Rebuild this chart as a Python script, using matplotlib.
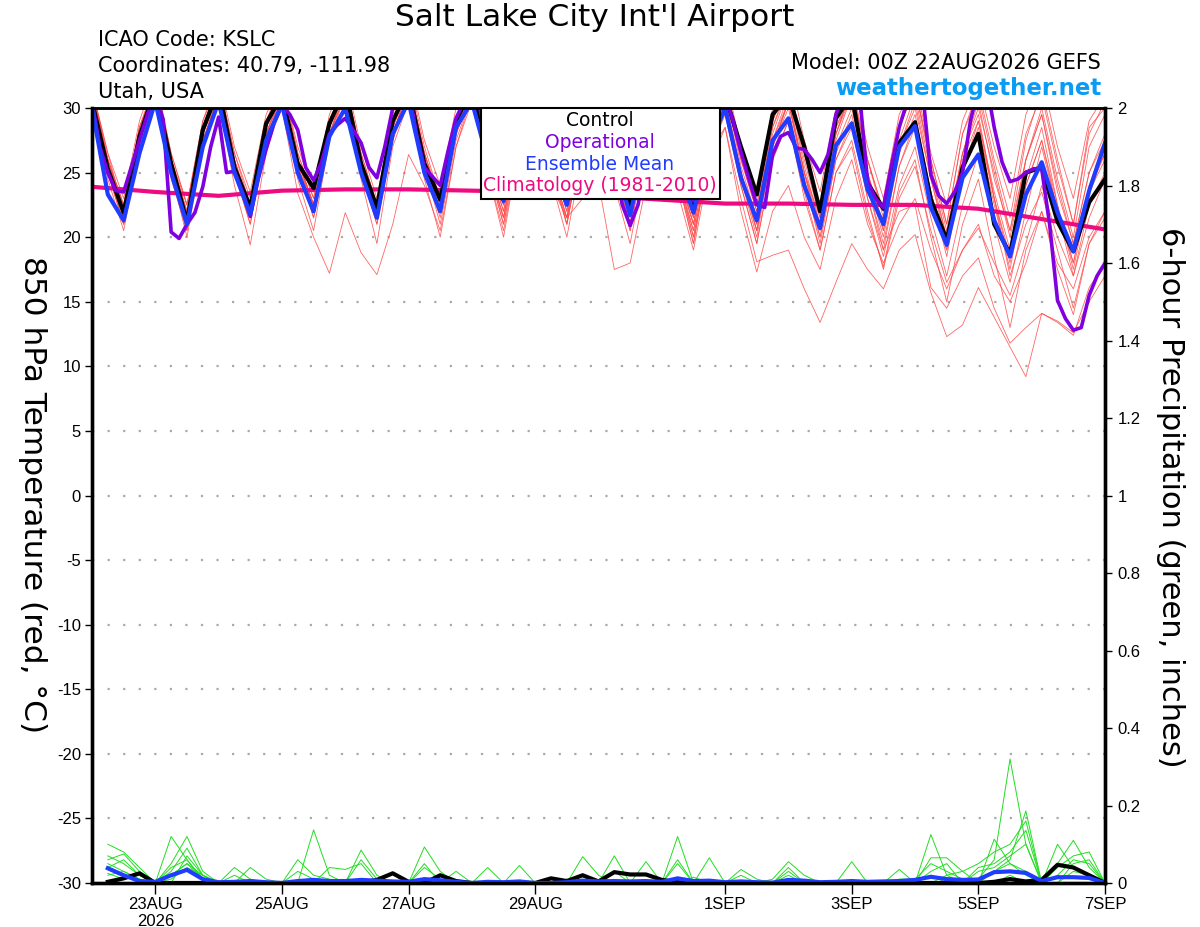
import matplotlib
matplotlib.use("Agg")
import matplotlib.pyplot as plt
from matplotlib.patches import Rectangle
import numpy as np

plt.rcParams['font.family'] = ['Liberation Sans', 'DejaVu Sans']
plt.rcParams['axes.unicode_minus'] = False
WIDE = ['DejaVu Sans']

# 850 hPa temperature, 6-hourly from 00Z 22AUG2026 (65 steps)
control_t = [30.5, 25.3, 21.9, 27.8, 31.5, 25.7, 21.2, 28.3,
             31.5, 25.4, 22.3, 28.8, 31.0, 25.7, 23.8, 28.8,
             31.5, 25.7, 22.3, 29.0, 31.5, 25.7, 22.9, 29.0,
             31.5, 26.5, 23.0, 28.5, 31.5, 26.5, 23.5, 28.5,
             31.5, 26.0, 22.5, 28.0, 31.0, 26.0, 22.5, 28.5,
             31.0, 27.0, 23.3, 29.5, 31.0, 27.0, 22.0, 29.2,
             31.0, 24.2, 22.2, 27.3, 28.9, 22.9, 19.8, 25.4,
             28.0, 21.0, 18.7, 25.0, 25.4, 21.2, 18.9, 22.7,
             24.5]

mean_t = [30.0, 23.3, 21.3, 26.5, 30.5, 25.0, 21.0, 27.0,
          30.5, 25.0, 21.8, 27.5, 30.3, 25.0, 22.0, 27.8,
          30.0, 25.0, 21.5, 28.0, 30.5, 25.0, 22.0, 28.5,
          30.5, 26.0, 22.8, 28.0, 30.5, 26.0, 22.5, 28.0,
          30.5, 26.0, 21.7, 27.5, 30.3, 25.5, 21.9, 27.0,
          30.0, 24.6, 21.3, 27.5, 29.2, 24.0, 20.7, 27.1,
          28.8, 23.7, 21.0, 27.0, 28.6, 22.3, 19.4, 24.6,
          26.4, 21.3, 18.5, 23.3, 25.8, 21.9, 18.9, 23.6,
          27.3]

# operational run is 3-hourly (129 steps)
oper_t = [30.5, 27.0, 25.0, 23.6, 23.5, 25.5, 27.5, 29.5,
          31.0, 29.1, 20.4, 19.9, 21.0, 21.9, 23.9, 27.0,
          29.3, 25.0, 25.1, 23.5, 21.6, 24.5, 26.8, 28.8,
          30.2, 29.5, 28.3, 25.4, 24.4, 25.8, 28.0, 28.7,
          29.2, 28.3, 27.3, 25.4, 24.6, 27.0, 30.0, 31.0,
          31.5, 28.0, 25.4, 24.7, 24.0, 26.7, 29.2, 30.5,
          31.0, 30.0, 27.0, 25.0, 23.8, 25.0, 27.5, 30.0,
          31.5, 30.0, 27.0, 25.0, 24.0, 25.5, 28.0, 30.5,
          31.5, 29.5, 26.0, 22.5, 20.9, 22.5, 26.0, 29.5,
          31.0, 29.5, 26.5, 24.0, 22.8, 24.5, 27.5, 30.0,
          31.0, 29.0, 26.6, 24.5, 22.5, 22.3, 26.4, 27.8,
          28.1, 26.9, 26.8, 26.0, 25.0, 26.4, 29.5, 31.0,
          32.0, 31.0, 24.3, 23.0, 22.3, 25.5, 28.5, 30.5,
          32.0, 31.0, 24.8, 23.2, 22.6, 23.5, 25.0, 29.0,
          31.5, 32.0, 28.5, 25.8, 24.3, 24.5, 25.0, 25.3,
          25.3, 21.0, 15.1, 13.7, 12.8, 13.0, 15.5, 17.0,
          18.0]

# daily climatology (1981-2010)
clim_t = [23.9, 23.5, 23.2, 23.6, 23.7, 23.7, 23.6, 23.5, 23.2,
          22.9, 22.6, 22.6, 22.5, 22.5, 22.2, 21.4, 20.6]

members_t = [
    [31.0, 26.0, 22.5, 28.0, 32.0, 25.5, 21.5, 28.0, 31.5, 25.0, 22.0, 28.5,
     31.0, 25.5, 22.5, 28.0, 31.5, 26.0, 22.0, 28.5, 32.0, 26.5, 23.0, 29.0,
     32.0, 26.0, 22.5, 28.5, 31.5, 26.0, 22.0, 28.0, 31.5, 26.5, 22.5, 28.5,
     31.0, 25.5, 21.5, 28.0, 31.0, 25.0, 21.0, 27.5, 30.5, 25.0, 21.5, 28.0,
     31.5, 26.0, 22.0, 28.5, 31.5, 25.5, 20.5, 26.5, 30.0, 25.0, 20.0, 26.0,
     29.5, 24.0, 19.5, 25.0, 28.0],
    [30.5, 25.0, 21.0, 27.5, 31.0, 24.5, 20.5, 27.0, 31.0, 25.0, 21.0, 28.0,
     30.0, 23.4, 20.0, 17.2, 21.9, 18.8, 17.1, 21.0, 26.4, 24.0, 20.5, 27.0,
     30.5, 25.5, 21.5, 28.0, 31.0, 25.5, 21.0, 27.5, 30.5, 25.0, 21.0, 27.5,
     30.5, 24.5, 20.0, 26.5, 30.0, 24.5, 20.5, 27.0, 30.5, 25.0, 21.0, 27.5,
     31.0, 24.0, 19.0, 25.5, 29.0, 23.5, 19.0, 25.0, 29.0, 23.0, 18.5, 24.5,
     28.5, 22.5, 18.0, 23.5, 26.5],
    [31.5, 26.5, 22.0, 28.5, 32.0, 26.0, 22.5, 29.0, 32.0, 26.5, 23.0, 29.0,
     31.5, 26.0, 22.5, 28.5, 32.0, 26.0, 22.0, 28.5, 31.5, 26.0, 22.0, 28.0,
     31.0, 25.5, 21.0, 27.0, 29.0, 24.0, 21.5, 23.0, 24.2, 17.5, 18.0, 24.0,
     29.5, 24.5, 20.5, 27.0, 31.0, 26.0, 22.0, 28.5, 32.0, 26.5, 22.0, 28.0,
     31.5, 25.0, 21.0, 27.5, 31.0, 25.0, 20.0, 26.5, 30.5, 24.5, 20.5, 26.0,
     29.5, 23.5, 19.5, 25.0, 27.5],
    [31.0, 25.5, 21.5, 28.0, 31.5, 26.0, 21.5, 28.0, 31.0, 25.5, 21.5, 28.0,
     31.5, 26.0, 22.5, 28.5, 31.5, 25.5, 21.5, 28.0, 31.5, 26.0, 22.0, 28.5,
     31.5, 25.5, 21.0, 28.0, 31.0, 25.5, 21.5, 27.5, 31.0, 25.0, 20.5, 27.5,
     30.5, 24.5, 19.5, 26.5, 28.5, 23.0, 18.1, 18.6, 19.0, 16.0, 13.4, 16.5,
     19.5, 17.5, 16.0, 19.0, 20.2, 15.7, 12.3, 13.2, 16.1, 13.8, 11.5, 9.2,
     14.1, 13.5, 12.6, 15.0, 17.0],
    [31.5, 26.0, 22.5, 28.5, 31.5, 26.0, 22.0, 28.5, 32.0, 26.5, 22.5, 29.0,
     32.0, 26.5, 23.0, 29.0, 32.0, 26.5, 22.5, 29.0, 32.5, 27.0, 23.0, 29.0,
     32.0, 26.5, 22.5, 28.5, 32.0, 26.0, 22.0, 28.5, 31.5, 25.5, 21.5, 28.0,
     31.0, 25.0, 21.0, 27.5, 30.5, 25.0, 20.5, 27.0, 30.0, 24.0, 20.0, 26.0,
     28.5, 23.0, 19.0, 22.0, 22.5, 16.1, 14.5, 17.0, 18.4, 14.5, 11.8, 13.0,
     14.1, 13.4, 12.4, 16.1, 18.0],
    [31.0, 25.5, 22.0, 28.0, 31.5, 25.0, 21.0, 28.0, 31.5, 25.5, 21.5, 28.5,
     31.5, 26.0, 22.0, 28.5, 32.0, 26.0, 22.0, 29.0, 32.0, 26.5, 22.5, 29.0,
     32.5, 26.5, 23.0, 29.5, 32.5, 26.5, 22.5, 29.0, 32.0, 26.0, 22.0, 28.5,
     31.5, 26.0, 21.5, 28.0, 31.5, 26.5, 22.5, 29.0, 32.0, 26.5, 22.5, 29.0,
     32.0, 26.0, 22.0, 28.5, 31.5, 26.0, 21.0, 28.0, 31.5, 26.0, 21.5, 28.0,
     31.0, 25.5, 21.0, 28.0, 30.5],
    [31.5, 25.5, 21.0, 27.5, 31.0, 25.0, 20.5, 27.0, 31.0, 25.0, 21.0, 27.5,
     31.0, 25.5, 21.5, 28.0, 31.0, 25.0, 21.0, 27.5, 31.5, 25.5, 21.0, 27.5,
     31.0, 25.0, 20.5, 27.0, 30.5, 24.5, 20.0, 26.5, 30.0, 24.0, 19.5, 26.0,
     29.5, 23.5, 19.0, 25.5, 28.5, 22.0, 17.3, 22.0, 24.0, 20.0, 17.5, 23.0,
     26.0, 21.0, 18.0, 21.0, 23.0, 19.0, 16.0, 19.0, 21.0, 17.0, 15.0, 18.0,
     22.0, 18.0, 16.0, 20.0, 22.0],
    [30.5, 25.0, 21.5, 27.5, 31.0, 25.5, 22.0, 28.0, 31.0, 25.5, 22.0, 28.5,
     31.5, 26.0, 22.5, 28.5, 31.5, 25.5, 21.5, 28.0, 31.0, 25.5, 22.0, 28.0,
     31.5, 26.0, 22.0, 28.5, 31.5, 26.0, 22.5, 28.5, 31.5, 26.0, 22.0, 28.0,
     31.0, 25.5, 21.0, 27.5, 30.5, 25.0, 20.5, 27.0, 30.5, 25.0, 20.0, 26.5,
     29.5, 24.0, 19.5, 25.5, 28.5, 23.5, 19.0, 25.0, 28.5, 23.0, 18.0, 24.0,
     27.5, 22.5, 17.5, 23.5, 26.0],
    [30.0, 24.5, 20.5, 27.0, 31.0, 25.0, 20.0, 27.0, 30.5, 24.0, 19.4, 26.5,
     30.5, 24.5, 20.5, 27.5, 31.0, 24.5, 19.5, 27.0, 30.5, 24.5, 20.0, 27.0,
     31.0, 25.0, 20.0, 27.0, 30.5, 25.0, 21.0, 27.5, 31.0, 25.0, 20.5, 27.0,
     30.5, 24.5, 19.5, 26.5, 30.0, 24.5, 20.0, 27.0, 30.5, 24.5, 19.5, 26.0,
     29.0, 23.0, 18.5, 24.0, 27.0, 21.5, 17.0, 22.5, 26.5, 21.0, 16.5, 22.0,
     27.0, 22.0, 17.0, 22.5, 25.0],
    [31.5, 26.5, 23.0, 29.0, 32.5, 26.5, 22.5, 29.0, 32.5, 27.0, 23.5, 29.5,
     32.0, 27.0, 23.5, 29.5, 32.5, 27.0, 23.0, 29.5, 33.0, 27.5, 24.0, 30.0,
     33.0, 27.5, 24.0, 30.0, 32.5, 27.0, 23.5, 29.5, 32.5, 27.0, 23.5, 29.5,
     32.0, 27.0, 23.0, 29.5, 32.5, 27.0, 23.5, 30.0, 33.0, 27.5, 23.5, 30.0,
     32.5, 27.0, 23.0, 29.5, 32.0, 26.5, 22.5, 29.0, 32.0, 27.0, 23.0, 29.5,
     32.5, 27.0, 23.0, 29.0, 31.0],
    [30.5, 25.0, 21.0, 27.5, 31.0, 25.0, 21.0, 27.5, 31.0, 25.0, 21.5, 28.0,
     31.0, 25.5, 21.5, 28.0, 31.0, 25.0, 21.0, 27.5, 31.0, 25.5, 21.5, 28.0,
     31.0, 25.5, 21.5, 28.0, 31.0, 25.5, 21.5, 27.5, 30.5, 25.0, 21.0, 27.5,
     30.5, 25.0, 21.0, 27.5, 30.5, 25.0, 21.0, 27.5, 31.0, 25.0, 20.5, 27.0,
     30.0, 24.5, 20.0, 26.5, 29.5, 23.5, 18.5, 25.0, 28.0, 22.5, 17.5, 24.0,
     27.5, 22.0, 18.0, 24.0, 26.5],
    [31.0, 26.0, 22.5, 28.5, 31.5, 26.0, 22.0, 28.5, 31.5, 26.0, 22.5, 28.5,
     31.5, 26.0, 22.5, 28.5, 31.5, 26.0, 22.0, 28.5, 32.0, 26.5, 22.5, 29.0,
     32.0, 26.5, 22.5, 29.0, 32.0, 26.5, 23.0, 29.0, 32.0, 26.5, 22.5, 29.0,
     32.0, 26.5, 22.5, 28.5, 31.5, 26.0, 22.0, 28.5, 31.5, 26.0, 21.5, 28.5,
     31.0, 25.0, 20.5, 27.0, 30.5, 24.5, 20.0, 26.5, 29.5, 23.0, 17.0, 21.0,
     23.5, 19.0, 14.5, 19.5, 22.0],
    [31.5, 26.0, 22.0, 28.0, 31.5, 26.0, 21.5, 28.0, 31.0, 25.5, 21.5, 28.0,
     31.0, 25.5, 22.0, 28.0, 31.5, 25.5, 21.5, 28.0, 31.5, 26.0, 22.0, 28.5,
     31.5, 26.0, 21.5, 28.0, 31.0, 25.5, 21.0, 27.5, 30.5, 25.0, 21.0, 27.5,
     30.5, 25.0, 20.0, 26.5, 29.5, 24.0, 19.5, 26.0, 29.0, 23.5, 19.0, 25.0,
     27.5, 22.0, 17.5, 23.0, 25.5, 20.5, 16.5, 19.0, 20.7, 18.0, 15.5, 19.5,
     24.0, 20.0, 17.0, 21.5, 24.5],
    [30.5, 25.5, 22.0, 28.0, 31.5, 25.5, 21.5, 28.5, 31.5, 26.0, 22.0, 28.5,
     31.5, 26.0, 22.5, 29.0, 32.0, 26.0, 22.0, 28.5, 31.5, 26.0, 22.5, 28.5,
     31.5, 26.0, 22.5, 29.0, 32.0, 26.5, 22.5, 29.0, 32.0, 26.0, 22.0, 28.5,
     31.5, 26.0, 22.0, 28.5, 31.5, 25.5, 21.5, 28.0, 31.5, 25.5, 21.0, 28.0,
     31.0, 25.0, 20.5, 27.0, 30.0, 24.5, 19.5, 26.0, 29.0, 23.5, 19.0, 26.0,
     30.0, 24.5, 20.0, 27.0, 29.5],
    [31.0, 25.5, 21.5, 28.0, 31.5, 25.5, 21.0, 27.5, 31.0, 25.5, 21.5, 28.0,
     31.0, 25.5, 22.0, 28.0, 31.0, 25.5, 21.5, 28.0, 31.5, 26.0, 22.0, 28.5,
     31.5, 26.0, 22.0, 28.0, 31.0, 25.5, 21.5, 28.0, 31.0, 25.5, 21.0, 27.5,
     30.5, 25.0, 20.5, 27.0, 30.0, 24.0, 19.5, 26.0, 29.0, 23.0, 19.0, 25.0,
     27.0, 21.5, 17.7, 23.5, 26.0, 20.0, 15.0, 21.0, 24.5, 18.5, 13.0, 19.0,
     22.0, 17.5, 14.0, 19.5, 21.5],
    [31.5, 26.0, 22.0, 28.5, 32.0, 26.5, 22.5, 28.5, 32.0, 26.0, 22.0, 28.5,
     32.0, 26.5, 23.0, 29.0, 32.0, 26.5, 22.5, 29.0, 32.0, 26.5, 22.5, 29.0,
     32.5, 27.0, 23.0, 29.5, 32.0, 26.5, 22.5, 29.0, 31.5, 26.0, 22.0, 28.5,
     31.5, 26.0, 22.0, 28.5, 32.0, 26.5, 22.5, 29.0, 32.0, 26.5, 22.0, 28.5,
     31.5, 26.0, 21.5, 28.5, 31.5, 26.0, 21.0, 28.0, 31.0, 25.5, 20.5, 27.5,
     31.5, 26.0, 21.0, 28.5, 30.0],
]

# 6-hour precipitation (inches), 06Z 22AUG .. 00Z 7SEP (64 steps)
control_p = [0.003, 0.012, 0.025, 0.0, 0.0, 0.0, 0.0, 0.0,
             0.0, 0.0, 0.0, 0.0, 0.0, 0.0, 0.0, 0.0,
             0.0, 0.008, 0.025, 0.003, 0.0, 0.02, 0.005, 0.0,
             0.0, 0.0, 0.0, 0.0, 0.012, 0.005, 0.02, 0.004,
             0.028, 0.022, 0.022, 0.008, 0.002, 0.0, 0.0, 0.0,
             0.0, 0.0, 0.0, 0.0, 0.0, 0.0, 0.0, 0.0,
             0.0, 0.0, 0.0, 0.0, 0.0, 0.0, 0.0, 0.0,
             0.003, 0.01, 0.004, 0.008, 0.047, 0.04, 0.02, 0.0]

mean_p = [0.038, 0.02, 0.005, 0.003, 0.02, 0.034, 0.01, 0.002,
          0.003, 0.005, 0.002, 0.0, 0.005, 0.008, 0.005, 0.005,
          0.008, 0.006, 0.004, 0.003, 0.01, 0.007, 0.003, 0.0,
          0.003, 0.002, 0.004, 0.0, 0.0, 0.002, 0.006, 0.004,
          0.005, 0.004, 0.005, 0.003, 0.012, 0.005, 0.006, 0.002,
          0.004, 0.002, 0.001, 0.008, 0.006, 0.002, 0.003, 0.005,
          0.003, 0.004, 0.005, 0.008, 0.016, 0.01, 0.008, 0.009,
          0.028, 0.03, 0.026, 0.005, 0.015, 0.015, 0.013, 0.0]

members_p = [
    [0.10, 0.08, 0.04, 0.0, 0.02, 0.05, 0.02, 0.0,
     0.0, 0.04, 0.01, 0.0, 0.0, 0.137, 0.02, 0.0,
     0.0, 0.01, 0.0, 0.0, 0.04, 0.01, 0.0, 0.0,
     0.0, 0.0, 0.045, 0.0, 0.0, 0.0, 0.0, 0.0,
     0.07, 0.0, 0.0, 0.0, 0.06, 0.0, 0.0, 0.0,
     0.0, 0.0, 0.01, 0.055, 0.02, 0.0, 0.0, 0.0,
     0.0, 0.0, 0.01, 0.01, 0.05, 0.03, 0.01, 0.01,
     0.06, 0.32, 0.10, 0.0, 0.02, 0.06, 0.05, 0.0],
    [0.07, 0.05, 0.02, 0.0, 0.12, 0.06, 0.01, 0.0,
     0.04, 0.01, 0.0, 0.0, 0.06, 0.02, 0.01, 0.0,
     0.085, 0.02, 0.0, 0.0, 0.01, 0.0, 0.03, 0.0,
     0.04, 0.0, 0.0, 0.0, 0.0, 0.0, 0.068, 0.02,
     0.0, 0.0, 0.055, 0.0, 0.0, 0.015, 0.0, 0.0,
     0.035, 0.01, 0.0, 0.03, 0.0, 0.0, 0.0, 0.055,
     0.0, 0.0, 0.035, 0.0, 0.125, 0.02, 0.0, 0.0,
     0.03, 0.06, 0.186, 0.0, 0.05, 0.11, 0.04, 0.0],
    [0.06, 0.075, 0.03, 0.0, 0.05, 0.12, 0.03, 0.0,
     0.0, 0.0, 0.0, 0.0, 0.0, 0.0, 0.04, 0.035,
     0.05, 0.0, 0.0, 0.0, 0.093, 0.03, 0.0, 0.0,
     0.0, 0.0, 0.0, 0.0, 0.0, 0.0, 0.0, 0.0,
     0.0, 0.0, 0.0, 0.0, 0.12, 0.0, 0.065, 0.0,
     0.0, 0.0, 0.0, 0.04, 0.0, 0.0, 0.0, 0.0,
     0.0, 0.0, 0.0, 0.0, 0.065, 0.065, 0.03, 0.0,
     0.113, 0.05, 0.03, 0.0, 0.1, 0.04, 0.02, 0.0],
    [0.05, 0.03, 0.01, 0.0, 0.03, 0.09, 0.02, 0.0,
     0.0, 0.0, 0.0, 0.0, 0.03, 0.01, 0.0, 0.0,
     0.06, 0.01, 0.0, 0.0, 0.05, 0.0, 0.0, 0.0,
     0.0, 0.0, 0.0, 0.0, 0.0, 0.01, 0.0, 0.0,
     0.03, 0.0, 0.0, 0.0, 0.05, 0.0, 0.0, 0.0,
     0.02, 0.0, 0.0, 0.0, 0.0, 0.0, 0.0, 0.0,
     0.0, 0.0, 0.0, 0.0, 0.03, 0.05, 0.0, 0.04,
     0.05, 0.08, 0.136, 0.0, 0.04, 0.07, 0.08, 0.0],
    [0.035, 0.02, 0.0, 0.0, 0.0, 0.07, 0.02, 0.0,
     0.0, 0.0, 0.0, 0.0, 0.0, 0.0, 0.0, 0.0,
     0.0, 0.0, 0.0, 0.0, 0.0, 0.0, 0.0, 0.0,
     0.0, 0.0, 0.0, 0.0, 0.0, 0.0, 0.01, 0.0,
     0.0, 0.0, 0.0, 0.0, 0.0, 0.0, 0.0, 0.0,
     0.0, 0.0, 0.0, 0.0, 0.0, 0.0, 0.0, 0.0,
     0.0, 0.0, 0.0, 0.0, 0.02, 0.0, 0.0, 0.03,
     0.04, 0.07, 0.10, 0.0, 0.0, 0.05, 0.06, 0.0],
    [0.04, 0.06, 0.02, 0.0, 0.04, 0.06, 0.01, 0.0,
     0.0, 0.0, 0.0, 0.0, 0.0, 0.0, 0.0, 0.0,
     0.0, 0.0, 0.0, 0.0, 0.0, 0.0, 0.0, 0.0,
     0.0, 0.0, 0.0, 0.0, 0.0, 0.0, 0.0, 0.0,
     0.0, 0.0, 0.0, 0.0, 0.0, 0.0, 0.0, 0.0,
     0.0, 0.0, 0.0, 0.0, 0.0, 0.0, 0.0, 0.0,
     0.0, 0.0, 0.0, 0.0, 0.0, 0.02, 0.03, 0.05,
     0.08, 0.10, 0.16, 0.0, 0.0, 0.03, 0.02, 0.0],
    [0.025, 0.01, 0.02, 0.0, 0.02, 0.05, 0.01, 0.0,
     0.0, 0.0, 0.0, 0.0, 0.0, 0.0, 0.0, 0.0,
     0.0, 0.0, 0.0, 0.0, 0.0, 0.0, 0.0, 0.0,
     0.0, 0.0, 0.0, 0.0, 0.0, 0.0, 0.0, 0.0,
     0.0, 0.0, 0.0, 0.0, 0.0, 0.0, 0.0, 0.0,
     0.0, 0.0, 0.0, 0.02, 0.0, 0.0, 0.0, 0.0,
     0.0, 0.0, 0.0, 0.0, 0.0, 0.0, 0.0, 0.0,
     0.03, 0.05, 0.02, 0.0, 0.0, 0.0, 0.0, 0.0],
    [0.02, 0.03, 0.01, 0.0, 0.01, 0.04, 0.02, 0.0,
     0.02, 0.0, 0.0, 0.0, 0.0, 0.0, 0.0, 0.0,
     0.0, 0.0, 0.0, 0.0, 0.0, 0.0, 0.0, 0.0,
     0.0, 0.0, 0.0, 0.0, 0.0, 0.0, 0.0, 0.0,
     0.0, 0.0, 0.0, 0.0, 0.0, 0.0, 0.0, 0.0,
     0.0, 0.0, 0.0, 0.0, 0.0, 0.0, 0.0, 0.0,
     0.0, 0.0, 0.0, 0.0, 0.0, 0.0, 0.0, 0.0,
     0.0, 0.02, 0.0, 0.0, 0.0, 0.0, 0.0, 0.0],
]

date_ticks = [1, 3, 5, 7, 10, 12, 14, 16]
date_labels = ['23AUG\n2026', '25AUG', '27AUG', '29AUG', '1SEP', '3SEP', '5SEP', '7SEP']

# time axes in days since 00Z 22AUG
x6 = np.arange(len(control_t)) / 4
x3 = np.arange(len(oper_t)) / 8
xp = np.arange(1, len(control_p) + 1) / 4
xc = np.arange(len(clim_t))

W, H = 1200, 927
fig = plt.figure(figsize=(W / 100, H / 100), dpi=100)
ax = fig.add_axes([92 / W, 1 - 883 / H, (1105 - 92) / W, (883 - 108) / H])

for m in members_t:
    ax.plot(x6, m, color='#ff4a4a', lw=0.6, alpha=0.85, zorder=2)
ax.plot(xc, clim_t, color='#ee0a80', lw=3, zorder=3)
ax.plot(x6, control_t, color='black', lw=3, zorder=4)
ax.plot(x3, oper_t, color='#8000e0', lw=2.6, zorder=5)
ax.plot(x6, mean_t, color='#1f3cff', lw=3, zorder=6)

ax.set_xlim(0, 16)
ax.set_ylim(-30, 30)
ax.set_yticks(np.arange(-30, 31, 5))
ax.set_xticks(date_ticks)
ax.set_xticklabels(date_labels)
for yv in range(-25, 30, 5):
    ax.axhline(yv, color='#aaaaaa', lw=1.6, ls=(0, (1, 6)), zorder=1)
ax.tick_params(axis='y', direction='out', length=5, width=1, labelsize=12, pad=3)
ax.tick_params(axis='x', direction='out', length=8, width=1, labelsize=12, pad=2)

ax2 = ax.twinx()
for m in members_p:
    ax2.plot(xp, m, color='#22dd22', lw=0.7)
ax2.plot(xp, control_p, color='black', lw=3)
ax2.plot(xp, mean_p, color='#1f3cff', lw=3)
ax2.set_ylim(0, 2)
ax2.set_yticks(np.arange(0, 2.01, 0.2))
ax2.set_yticklabels([f'{v:g}' for v in np.round(np.arange(0, 2.01, 0.2), 1)])
ax2.tick_params(axis='y', direction='out', length=5, width=1, labelsize=12, pad=4)

for a in (ax, ax2):
    a.spines['left'].set_linewidth(2.4)
    a.spines['bottom'].set_linewidth(2.4)
    a.spines['right'].set_linewidth(2.4)
    a.spines['top'].set_linewidth(1.8)

# titles and labels
fig.text(595 / W, 1 - 18 / H, "Salt Lake City Int'l Airport", ha='center', va='center',
         fontsize=22.5, family=WIDE)
fig.text(98 / W, 1 - 40 / H, 'ICAO Code: KSLC', ha='left', va='center', fontsize=15, family=WIDE)
fig.text(98 / W, 1 - 66 / H, 'Coordinates: 40.79, -111.98', ha='left', va='center',
         fontsize=15, family=WIDE)
fig.text(98 / W, 1 - 92 / H, 'Utah, USA', ha='left', va='center', fontsize=15, family=WIDE)
fig.text(1101 / W, 1 - 63 / H, 'Model: 00Z 22AUG2026 GEFS', ha='right', va='center',
         fontsize=15, family=WIDE)
fig.text(1101 / W, 1 - 89 / H, 'weathertogether.net', ha='right', va='center',
         fontsize=16.5, fontweight='bold', color='#0a9cf5', family=WIDE)
fig.text(32 / W, 1 - 495 / H, '850 hPa Temperature (red, °C)', rotation=-90,
         ha='center', va='center', fontsize=22.5, family=WIDE)
fig.text(1170 / W, 1 - 497 / H, '6-hour Precipitation (green, inches)', rotation=-90,
         ha='center', va='center', fontsize=22, family=WIDE)

# legend box
fig.add_artist(Rectangle((481 / W, 1 - 199 / H), 239 / W, 91 / H, transform=fig.transFigure,
                         facecolor='white', edgecolor='black', lw=1.5, zorder=10))
legend_items = [('Control', 'black'), ('Operational', '#8000e0'),
                ('Ensemble Mean', '#1f3cff'), ('Climatology (1981-2010)', '#ee0a80')]
for k, (txt, col) in enumerate(legend_items):
    fig.text(600 / W, 1 - (121 + 21.5 * k) / H, txt, ha='center', va='center',
             fontsize=13.5, color=col, zorder=11, family=WIDE)

fig.savefig('out.png', dpi=100)
